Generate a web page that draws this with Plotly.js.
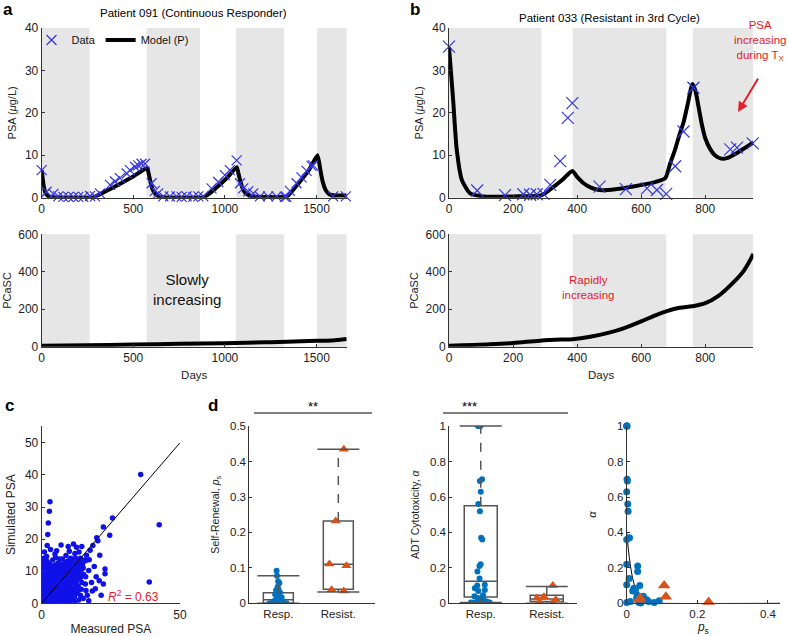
<!DOCTYPE html>
<html><head><meta charset="utf-8">
<script src="https://cdn.plot.ly/plotly-3.0.1.min.js"></script>
<style>html,body{margin:0;padding:0;background:#fff}#chart{width:788px;height:636px}</style>
</head><body><div id="chart"></div>
<script>
// ---------------- DATA ----------------
// Panel a: Patient 091
const treatA = [[0,262],[573,864],[1060,1323],[1503,1665]];
const dataDaysA = [0,27,64,91,118,146,173,200,227,264,291,318,373,400,427,464,482,509,527,545,564,600,618,636,664,700,736,764,791,827,855,882,927,964,1000,1027,1064,1082,1100,1127,1155,1191,1236,1282,1327,1336,1355,1391,1418,1446,1473,1482,1591,1660];
const dataPsaA  = [6.5,1.4,0.9,0.3,0.2,0.2,0.2,0.2,0.2,0.4,0.3,1.0,3.0,3.8,4.6,5.7,6.5,7.3,7.6,8.0,8.0,3.4,1.6,1.0,0.3,0.3,0.3,0.2,0.3,0.2,0.3,0.3,2.2,3.7,5.3,6.5,8.8,3.4,2.2,1.5,1.0,0.3,0.3,0.3,0.2,0.2,1.6,3.4,4.8,6.3,7.5,7.6,0.3,0.3];
const modelDaysA = [0,10,20,35,60,280,350,420,500,575,585,595,605,620,640,660,885,950,1010,1065,1075,1085,1095,1110,1130,1150,1340,1400,1460,1505,1515,1525,1535,1550,1570,1600,1665];
const modelPsaA  = [6.5,3.0,1.2,0.4,0.1,0.05,1.5,3.1,5.0,7.0,5.5,3.5,2.0,0.9,0.3,0.1,0.1,2.2,4.6,7.2,5.5,3.8,2.4,1.2,0.6,0.3,0.3,3.3,6.6,10.0,8.2,5.6,3.6,1.8,0.8,0.5,0.5];
const stemDaysA = [0,250,500,750,1000,1250,1500,1600,1665];
const stemA     = [5,7,11,15,18,24,31,35,41];
// Panel b: Patient 033
const treatB = [[0,288],[386,678],[761,950]];
const dataDaysB = [0,88,175,232,253,274,295,316,347,371,385,470,552,618,649,678,706,732,763,878,899,948];
const dataPsaB  = [35.6,1.7,0.6,0.8,0.7,0.8,0.9,3.0,8.6,18.8,22.3,2.6,2.0,2.2,1.8,0.9,7.4,15.6,25.9,11.4,11.8,12.8];
const modelDaysB = [0,13,24,40,66,107,200,290,320,355,385,400,420,445,470,520,580,640,675,690,706,720,732,745,760,770,780,790,800,815,830,850,870,900,925,950];
const modelPsaB  = [35.5,23,11.4,4.2,1.0,0.3,0.3,0.6,2.2,4.3,6.3,4.9,3.4,2.3,1.8,2.0,2.7,3.6,4.6,8.0,11.4,15.0,17.7,22.0,26.8,25.0,21.0,17.0,14.0,11.5,10.0,9.2,9.4,10.6,11.8,13.0];
const stemDaysB = [0,128,200,284,350,386,441,500,545,600,640,680,720,760,800,840,880,920,950];
const stemB     = [5,13,20,32,38,40,53,75,98,135,165,190,208,216,232,270,330,405,495];
// Panel c: measured vs simulated PSA
const psaPairs = [
[0.1,0.2],[0.2,1.0],[0.3,2.1],[0.2,3.0],[0.4,4.2],[0.3,5.1],[0.5,6.0],[0.2,7.2],[0.6,8.3],[0.4,9.5],[0.3,10.4],[0.8,0.5],[0.9,1.6],[0.7,2.7],[1.0,3.6],[0.8,4.6],[1.1,5.6],[0.9,6.8],[1.2,7.8],[1.0,8.8],[0.5,11.5],[1.2,12.2],[1.3,10.7],
[1.5,0.3],[1.6,1.3],[1.8,2.2],[1.5,3.3],[2.0,4.1],[1.7,5.2],[2.2,6.1],[1.9,7.0],[2.4,8.1],[2.1,9.2],[2.6,10.0],[2.3,1.0],[2.8,2.0],[2.5,3.0],[2.9,4.6],[2.7,5.7],[3.0,6.6],[2.8,7.6],[3.1,0.4],[3.2,1.6],[1.8,14.6],[2.0,18.0],[2.2,21.4],[2.4,25.0],[2.8,28.7],[3.0,31.6],[2.5,12.5],[3.0,11.0],
[3.4,2.6],[3.6,3.6],[3.3,4.6],[3.8,5.4],[3.5,6.4],[4.0,7.3],[3.7,8.5],[4.2,9.3],[3.9,0.8],[4.3,1.9],[4.5,2.9],[4.1,3.9],[4.6,4.9],[4.4,5.9],[4.8,6.8],[4.6,7.9],[4.9,8.9],[4.7,10.0],[4.3,11.0],[5.0,0.3],[5.1,3.3],[5.2,12.0],[4.0,13.5],[3.5,10.3],
[5.3,1.5],[5.5,2.4],[5.4,4.3],[5.7,5.3],[5.6,6.3],[5.9,7.3],[5.8,8.3],[6.1,9.3],[6.0,10.3],[6.3,11.2],[5.4,16.4],[6.2,1.0],[6.4,3.0],[6.6,4.0],[6.5,5.8],[6.8,6.8],[6.7,7.8],[7.0,8.8],[6.9,9.8],[7.2,10.8],[7.1,2.0],[6.0,12.6],[5.0,14.3],[7.3,0.5],
[7.4,3.5],[7.6,4.7],[7.5,5.6],[7.8,6.6],[7.7,7.6],[8.0,8.6],[7.9,9.5],[8.2,10.5],[8.1,11.4],[8.4,1.6],[8.3,2.7],[8.6,4.0],[8.5,5.1],[8.8,6.2],[8.7,7.2],[9.0,8.2],[8.9,9.2],[9.2,10.2],[9.1,11.8],[8.5,12.8],[8.0,0.9],[9.3,3.2],[9.6,17.7],[10.0,16.2],[7.5,13.8],
[9.4,4.4],[9.6,5.4],[9.5,6.5],[9.8,7.5],[9.7,8.5],[10.0,9.5],[9.9,10.5],[10.2,11.4],[10.1,12.3],[10.4,2.2],[10.3,3.6],[10.6,5.0],[10.5,6.0],[10.8,7.0],[10.7,8.0],[11.0,9.0],[10.9,10.0],[11.2,11.0],[11.1,12.8],[10.5,14.0],[11.0,1.2],[9.0,0.8],[11.4,4.1],
[11.5,6.4],[11.7,7.5],[11.6,8.6],[11.9,9.7],[11.8,10.7],[12.1,11.6],[12.0,12.6],[12.3,3.0],[12.2,4.8],[12.5,6.0],[12.4,7.0],[12.7,8.2],[12.6,9.2],[12.9,10.2],[12.8,11.2],[13.1,12.2],[13.0,13.2],[12.6,17.5],[12.0,15.5],[13.2,5.2],[11.8,2.0],[13.4,1.0],
[13.5,7.6],[13.7,8.8],[13.6,9.9],[13.9,11.0],[13.8,12.0],[14.1,13.0],[14.0,14.0],[14.3,4.4],[14.5,6.5],[14.4,10.5],[14.7,11.7],[14.5,17.7],[14.9,12.6],[15.2,9.0],[15.5,13.5],[15.8,6.0],[16.0,13.3],[15.9,8.3],[16.2,15.0],[13.5,16.0],
[16.5,2.5],[17.0,10.2],[17.5,16.5],[18.0,6.5],[18.5,18.0],[19.0,11.5],[19.7,8.3],[19.9,20.4],[20.3,19.5],[18.3,3.8],[17.2,13.6],[19.4,4.5],[20.8,7.0],[21.0,15.0],
[22.3,23.8],[24.6,21.2],[22.9,10.7],[22.9,9.2],[22.3,6.0],[25.6,26.6],[35.8,40.1],[42.5,24.5],[38.9,6.6],[21.5,2.5],
[4.8,15.4],[6.5,13.8],[8.8,14.9],[3.2,16.8],[7.0,18.2],[11.5,18.5],
[10.0,0.3],[12.0,0.5],[14.0,2.5],[15.0,1.5],[16.0,4.0],[11.0,1.8],[17.0,0.8],[13.0,3.8],
[0.5,0.5],[1.3,0.9],[2.0,0.2],[2.6,0.6],[3.5,1.2],[4.4,0.5],[5.8,0.7],[6.8,1.4],[1.5,2.6],[2.2,3.5],[3.0,2.2],[4.0,2.4],[5.0,2.0],[6.0,1.8],[7.0,3.0],[7.9,2.2],
[1.4,4.5],[2.5,4.2],[3.5,5.0],[4.5,4.0],[5.5,3.5],[6.3,4.8],[7.2,4.2],[8.0,3.5],[1.6,6.2],[2.4,6.9],[3.2,7.5],[4.2,6.4],[5.2,5.5],[6.0,7.0],[7.2,6.0],[8.2,5.6],
[1.5,8.7],[2.8,8.8],[3.6,9.2],[5.2,8.0],[6.4,8.2],[7.4,9.0],[8.3,7.8],[9.5,9.8],[1.8,11.2],[3.0,12.0],[4.5,11.8],[5.6,11.5],[6.8,12.2],[7.8,12.0],[9.5,13.2],[11.0,13.5],
[12.2,14.0],[2.0,13.0],[0.8,14.0],[1.0,16.0],[0.6,12.8],[9.8,1.6],[10.8,3.0],[12.0,6.8],[13.0,9.5],[14.0,8.0],[15.0,11.0],[11.5,9.5]
];
const identityLine = [0,50];
// Panel d: fitted parameters
const groups = ['Resp.','Resist.'];
const psResp    = [0,0.001,0,0.001,0.002,0,0.003,0.004,0.008,0,0,0.031,0.031,0.007,0,0.037,0.020,0.025,0.017,0.030,0.047,0.028,0.057,0.092,0.062,0,0.035,0.040,0.010,0.078];
const alphaResp = [1.0,1.0,1.0,0.70,0.69,0.63,0.56,0.52,0.37,0.36,0.22,0.21,0.18,0.14,0.105,0.10,0.085,0.075,0.07,0.045,0.04,0.03,0.02,0.015,0.01,0.005,0.005,0.002,0.01,0.005];
const psResist    = [0.435,0.232,0.111,0.106,0.038,0.035];
const alphaResist = [0.003,0.008,0.037,0.10,0.03,0.02];
// box statistics: [lowerWhisker, q1, median, q3, upperWhisker]
const boxPsResp = [0,0.0,0.01,0.03,0.078];
const boxPsResist = [0.032,0.04,0.11,0.232,0.435];
const boxAlphaResp = [0.005,0.035,0.125,0.55,1.0];
const boxAlphaResist = [0.0,0.01,0.025,0.045,0.095];
const fitPs = [0,0.005,0.01,0.015,0.02,0.03,0.04,0.05,0.06,0.08,0.1,0.435];
const fitAlpha = [0.40,0.30,0.22,0.16,0.115,0.06,0.03,0.015,0.007,0.002,0,0];

// ---------------- STYLE ----------------
const FONT = 'Liberation Sans, Arial, Helvetica, sans-serif';
const BLUEX = '#3535e0';
const MBLUE = '#0072BD';
const MORANGE = '#D95319';
const AX = '#333';
const BOXC = '#555';
const SHADE = '#e6e6e6';

const traces = [];
// panel a
traces.push({x:modelDaysA,y:modelPsaA,mode:'lines',line:{color:'#000',width:4,shape:'spline',smoothing:0.4},name:'Model (P)',xaxis:'x',yaxis:'y',showlegend:true,legendrank:2});
traces.push({x:dataDaysA,y:dataPsaA,mode:'markers',marker:{symbol:'x-thin-open',size:10,line:{width:1.2,color:BLUEX},color:BLUEX},name:'Data',xaxis:'x',yaxis:'y',showlegend:true,legendrank:1,cliponaxis:false});
traces.push({x:stemDaysA,y:stemA,mode:'lines',line:{color:'#000',width:4,shape:'spline'},xaxis:'x2',yaxis:'y2',showlegend:false});
// panel b
traces.push({x:modelDaysB,y:modelPsaB,mode:'lines',line:{color:'#000',width:4,shape:'spline',smoothing:0.6},xaxis:'x3',yaxis:'y3',showlegend:false});
traces.push({x:dataDaysB,y:dataPsaB,mode:'markers',marker:{symbol:'x-thin-open',size:12,color:BLUEX,line:{width:1.2,color:BLUEX}},xaxis:'x3',yaxis:'y3',showlegend:false,cliponaxis:false});
traces.push({x:stemDaysB,y:stemB,mode:'lines',line:{color:'#000',width:4,shape:'spline'},xaxis:'x4',yaxis:'y4',showlegend:false});
// panel c
traces.push({x:psaPairs.map(p=>p[0]),y:psaPairs.map(p=>p[1]),mode:'markers',marker:{color:'#1010e8',size:5.5},xaxis:'x5',yaxis:'y5',showlegend:false});
traces.push({x:identityLine,y:identityLine,mode:'lines',line:{color:'#000',width:1},xaxis:'x5',yaxis:'y5',showlegend:false});

// panel d boxes
function addBox(pos, st, xa, ya){
  traces.push({type:'box',x0:pos,q1:[st[1]],median:[st[2]],q3:[st[3]],lowerfence:[st[1]],upperfence:[st[3]],
    width:0.5,fillcolor:'rgba(0,0,0,0)',line:{color:BOXC,width:1.5},boxpoints:false,xaxis:xa,yaxis:ya,showlegend:false,hoverinfo:'skip'});
  traces.push({x:[pos,pos],y:[st[3],st[4]],mode:'lines',line:{color:BOXC,width:1.5,dash:'dash'},xaxis:xa,yaxis:ya,showlegend:false});
  traces.push({x:[pos,pos],y:[st[0],st[1]],mode:'lines',line:{color:BOXC,width:1.5,dash:'dash'},xaxis:xa,yaxis:ya,showlegend:false});
  traces.push({x:[pos,pos],y:[st[0],st[4]],mode:'markers',marker:{symbol:'line-ew-open',size:30,color:BOXC,line:{color:BOXC,width:1.5}},xaxis:xa,yaxis:ya,showlegend:false,cliponaxis:false});
}
function addPts(pos, vals, color, sym, sz, xa, ya){
  traces.push({type:'box',y:vals,x0:pos,boxpoints:'all',jitter:0.7,pointpos:0,width:0.5,
    fillcolor:'rgba(0,0,0,0)',line:{color:'rgba(0,0,0,0)',width:0},
    marker:{color:color,symbol:sym,size:sz},xaxis:xa,yaxis:ya,showlegend:false,hoverinfo:'y'});
}
addBox(0,boxPsResp,'x6','y6'); addBox(1,boxPsResist,'x6','y6');
addPts(0,psResp,MBLUE,'circle',6,'x6','y6'); addPts(1,psResist,MORANGE,'triangle-up',9,'x6','y6');
addBox(0,boxAlphaResp,'x7','y7'); addBox(1,boxAlphaResist,'x7','y7');
addPts(0,alphaResp,MBLUE,'circle',6,'x7','y7'); addPts(1,alphaResist,MORANGE,'triangle-up',9,'x7','y7');
// panel d3
traces.push({x:fitPs,y:fitAlpha,mode:'lines',line:{color:'#000',width:1,shape:'spline'},xaxis:'x8',yaxis:'y8',showlegend:false});
traces.push({x:psResp,y:alphaResp,mode:'markers',marker:{color:MBLUE,size:7},xaxis:'x8',yaxis:'y8',showlegend:false,cliponaxis:false});
traces.push({x:psResist,y:alphaResist,mode:'markers',marker:{color:MORANGE,size:11,symbol:'triangle-up'},xaxis:'x8',yaxis:'y8',showlegend:false,cliponaxis:false});

// ---------------- LAYOUT ----------------
const baseAx = {showline:true,linecolor:AX,linewidth:1,ticks:'inside',ticklen:3,tickcolor:AX,showgrid:false,zeroline:false,
  tickfont:{family:FONT,size:12,color:'#222'},fixedrange:true};
function ax(o){return Object.assign({},baseAx,o);}
const titleFont = (s)=>({family:FONT,size:s,color:'#222'});

const xA = [0.0529,0.440], xB=[0.5698,0.956];
const yTop=[0.6892,0.956], yBot=[0.4549,0.6316];
const yD=[0.0514,0.330];

const shapes = [];
function shade(list, xr, yr){
  list.forEach(iv=>shapes.push({type:'rect',xref:xr,yref:yr+' domain',x0:iv[0],x1:iv[1],y0:0,y1:1,fillcolor:SHADE,line:{width:0},layer:'below'}));
}
shade(treatA,'x','y'); shade(treatA,'x2','y2'); shade(treatB,'x3','y3'); shade(treatB,'x4','y4');
// significance bars
shapes.push({type:'line',xref:'paper',yref:'paper',x0:254/788,x1:372/788,y0:1-413/636,y1:1-413/636,line:{color:'#000',width:1}});
shapes.push({type:'line',xref:'paper',yref:'paper',x0:443/788,x1:568/788,y0:1-413/636,y1:1-413/636,line:{color:'#000',width:1}});

const ann = [];
function ptxt(t,x,y,size,opts){ann.push(Object.assign({text:t,xref:'paper',yref:'paper',x:x/788,y:1-y/636,showarrow:false,xanchor:'center',yanchor:'middle',font:{family:FONT,size:size,color:'#000'}},opts||{}));}
ptxt('<b>a</b>',8,9,17);
ptxt('<b>b</b>',415,9,17);
ptxt('<b>c</b>',9,405,17);
ptxt('<b>d</b>',213,405,17);
ptxt('Patient 091 (Continuous Responder)',193,13,11.5);
ptxt('Patient 033 (Resistant in 3rd Cycle)',609,18,11.5);
ptxt('Slowly<br>increasing',187,289,15,{font:{family:FONT,size:15,color:'#111'}});
ptxt('Rapidly<br>increasing',588,287,11.5,{font:{family:FONT,size:11.5,color:'#e3202a'}});
ptxt('PSA<br>increasing<br>during T<sub>X</sub>',760,41,11.5,{font:{family:FONT,size:11.5,color:'#e3202a'}});
ptxt('**',313,406,13);
ptxt('***',469,406,13);
ann.push({xref:'x5',yref:'y5',x:33.2,y:2.4,text:'<i>R</i><sup>2</sup> = 0.63',showarrow:false,font:{family:FONT,size:12,color:'#e3202a'}});
ann.push({xref:'paper',yref:'paper',x:738/788,y:1-112/636,ax:21,ay:-35,axref:'pixel',ayref:'pixel',text:'',showarrow:true,arrowhead:2,arrowsize:1,arrowwidth:2,arrowcolor:'#e3202a'});

const layout = {
  width:788,height:636,margin:{l:0,r:0,t:0,b:0},paper_bgcolor:'#fff',plot_bgcolor:'rgba(0,0,0,0)',
  font:{family:FONT,size:12,color:'#222'},
  showlegend:true,
  legend:{x:0.040,y:1-40/636,xanchor:'left',yanchor:'middle',orientation:'h',bgcolor:'rgba(0,0,0,0)',font:{family:FONT,size:11,color:'#111'},itemwidth:30,tracegroupgap:0},
  xaxis: ax({domain:xA,anchor:'y',range:[0,1665],tickvals:[0,500,1000,1500]}),
  yaxis: ax({domain:yTop,anchor:'x',range:[0,40],tickvals:[0,10,20,30,40],title:{text:'PSA (<i>μ</i>g/L)',font:titleFont(11),standoff:6}}),
  xaxis2: ax({domain:xA,anchor:'y2',range:[0,1665],tickvals:[0,500,1000,1500],title:{text:'Days',font:titleFont(11.5),standoff:6}}),
  yaxis2: ax({domain:yBot,anchor:'x2',range:[0,600],tickvals:[0,200,400,600],title:{text:'PCaSC',font:titleFont(11),standoff:4}}),
  xaxis3: ax({domain:xB,anchor:'y3',range:[0,950],tickvals:[0,200,400,600,800]}),
  yaxis3: ax({domain:yTop,anchor:'x3',range:[0,40],tickvals:[0,10,20,30,40],title:{text:'PSA (<i>μ</i>g/L)',font:titleFont(11),standoff:6}}),
  xaxis4: ax({domain:xB,anchor:'y4',range:[0,950],tickvals:[0,200,400,600,800],title:{text:'Days',font:titleFont(11.5),standoff:6}}),
  yaxis4: ax({domain:yBot,anchor:'x4',range:[0,600],tickvals:[0,200,400,600],title:{text:'PCaSC',font:titleFont(11),standoff:4}}),
  xaxis5: ax({domain:[0.0529,0.2284],anchor:'y5',range:[0,50],tickvals:[0,50],title:{text:'Measured PSA',font:titleFont(12),standoff:6}}),
  yaxis5: ax({domain:yD,anchor:'x5',range:[0,55.2],tickvals:[0,10,20,30,40,50],title:{text:'Simulated PSA',font:titleFont(12),standoff:6}}),
  xaxis6: ax({domain:[0.3164,0.4759],anchor:'y6',range:[-0.484,1.612],tickvals:[0,1],ticktext:groups,ticks:'',tickfont:{family:FONT,size:11.5,color:'#222'}}),
  yaxis6: ax({domain:yD,anchor:'x6',range:[0,0.5],tickvals:[0,0.1,0.2,0.3,0.4,0.5],tickfont:{family:FONT,size:11.5,color:'#222'},title:{text:'Self-Renewal, <i>p</i><sub>s</sub>',font:titleFont(10.5),standoff:8}}),
  xaxis7: ax({domain:[0.5702,0.7319],anchor:'y7',range:[-0.476,1.454],tickvals:[0,1],ticktext:groups,ticks:'',tickfont:{family:FONT,size:11.5,color:'#222'}}),
  yaxis7: ax({domain:yD,anchor:'x7',range:[0,1],tickvals:[0,0.2,0.4,0.6,0.8,1],tickfont:{family:FONT,size:11.5,color:'#222'},title:{text:'ADT Cytotoxicity, <i>α</i>',font:titleFont(10.5),standoff:8}}),
  xaxis8: ax({domain:[0.7953,0.9898],anchor:'y8',range:[0,0.434],tickvals:[0,0.2,0.4],tickfont:{family:FONT,size:11.5,color:'#222'},title:{text:'<i>p</i><sub>s</sub>',font:titleFont(12),standoff:4}}),
  yaxis8: ax({domain:yD,anchor:'x8',range:[0,1],tickvals:[0,0.2,0.4,0.6,0.8,1],tickfont:{family:FONT,size:11.5,color:'#222'},title:{text:'<i>α</i>',font:titleFont(11),standoff:8}}),
  shapes:shapes, annotations:ann, boxmode:'overlay'
};
Plotly.newPlot('chart',traces,layout,{staticPlot:true,displayModeBar:false});
</script></body></html>
